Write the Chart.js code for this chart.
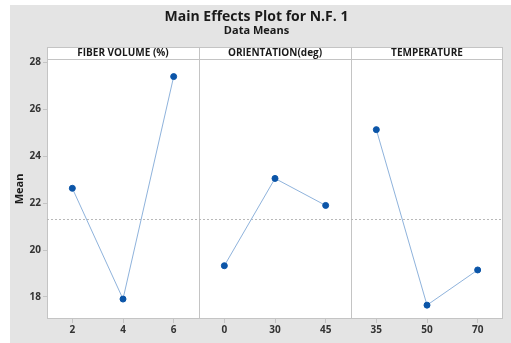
<!DOCTYPE html>
<html>
<head>
<meta charset="utf-8">
<script src="https://cdn.jsdelivr.net/npm/chart.js@4/dist/chart.umd.min.js"></script>
<style>
  body { margin: 0; background: #fff; }
  #wrap { position: absolute; left: 10px; top: 5px; width: 501px; height: 338px; background: #e4e4e4; }
</style>
</head>
<body>
<div id="wrap"><canvas id="main" width="501" height="338"></canvas></div>
<script>
// factors and their levels
const factors = ["FIBER VOLUME (%)", "ORIENTATION(deg)", "TEMPERATURE"];
const fiberLevels = ["2", "4", "6"];
const orientLevels = ["0", "30", "45"];
const tempLevels = ["35", "50", "70"];

// means
const fiberMeans = [22.63, 17.91, 27.39];
const orientMeans = [19.33, 23.05, 21.9];
const tempMeans = [25.13, 17.65, 19.15];

const grandMean = 21.32;
const yTicks = [18, 20, 22, 24, 26, 28];

const levelGroups = [fiberLevels, orientLevels, tempLevels];
const meanGroups = [fiberMeans, orientMeans, tempMeans];
const allLevels = [].concat(...levelGroups);

// one dataset per panel, nulls elsewhere so lines don't join panels
function panelData(p) {
  const out = allLevels.map(() => null);
  let start = 0;
  for (let i = 0; i < p; i++) start += levelGroups[i].length;
  meanGroups[p].forEach((v, i) => { out[start + i] = v; });
  return out;
}

const lineColor = "#8fb3dc";
const dotColor = "#0b55a8";
const frameColor = "#c4c4c4";

const panelPlugin = {
  id: "panels",
  beforeDatasetsDraw(chart) {
    const { ctx, chartArea: a, scales } = chart;
    const x = scales.x, y = scales.y;
    ctx.save();
    // white plot + header strip
    ctx.fillStyle = "#fff";
    ctx.fillRect(a.left, a.top - 12, a.right - a.left, a.bottom - a.top + 12);
    ctx.strokeStyle = frameColor;
    ctx.lineWidth = 1;
    ctx.strokeRect(a.left + 0.5, a.top - 11.5, a.right - a.left - 1, a.bottom - a.top + 11);
    ctx.beginPath();
    ctx.moveTo(a.left, a.top + 0.5);
    ctx.lineTo(a.right, a.top + 0.5);
    ctx.stroke();

    // panel dividers and headers
    let idx = 0;
    const edges = [a.left];
    levelGroups.forEach((g, p) => {
      idx += g.length;
      if (p < levelGroups.length - 1) {
        const xl = (x.getPixelForValue(idx - 1) + x.getPixelForValue(idx)) / 2;
        edges.push(xl);
        ctx.beginPath();
        ctx.moveTo(Math.round(xl) + 0.5, a.top - 12);
        ctx.lineTo(Math.round(xl) + 0.5, a.bottom);
        ctx.stroke();
      }
    });
    edges.push(a.right);
    ctx.fillStyle = "#1a1a1a";
    ctx.font = "bold 10px 'Open Sans'";
    ctx.textAlign = "center";
    ctx.textBaseline = "middle";
    factors.forEach((f, p) => {
      ctx.fillText(f, (edges[p] + edges[p + 1]) / 2, a.top - 5.5);
    });

    // grand mean reference line
    const ym = Math.round(y.getPixelForValue(grandMean)) + 0.5;
    ctx.strokeStyle = "#b8b8b8";
    ctx.setLineDash([2, 2]);
    ctx.beginPath();
    ctx.moveTo(a.left, ym);
    ctx.lineTo(a.right, ym);
    ctx.stroke();
    ctx.restore();
  }
};

const tickFont = { family: "'Open Sans'", size: 10, weight: "bold" };

new Chart(document.getElementById("main"), {
  type: "line",
  data: {
    labels: allLevels,
    datasets: meanGroups.map((m, p) => ({
      data: panelData(p),
      borderColor: lineColor,
      borderWidth: 1,
      pointRadius: 3,
      pointBackgroundColor: dotColor,
      pointBorderColor: dotColor,
      spanGaps: false,
      tension: 0
    }))
  },
  options: {
    responsive: false,
    animation: false,
    layout: { padding: { left: 0, right: 8, top: 0, bottom: 0 } },
    plugins: {
      legend: { display: false },
      tooltip: { enabled: false },
      title: {
        display: true,
        text: "Main Effects Plot for N.F. 1",
        color: "#1a1a1a",
        font: { family: "'Open Sans'", size: 14, weight: "bold", lineHeight: 1 },
        padding: { top: 5, bottom: 0 }
      },
      subtitle: {
        display: true,
        text: "Data Means",
        color: "#1a1a1a",
        font: { family: "'Open Sans'", size: 11, weight: "bold", lineHeight: 1 },
        padding: { top: 1.5, bottom: 22.5 }
      }
    },
    scales: {
      x: {
        type: "category",
        offset: true,
        grid: { drawOnChartArea: false, drawTicks: true, tickLength: 4, color: frameColor, offset: false },
        border: { display: false },
        ticks: { color: "#333", font: tickFont, padding: 1, maxRotation: 0 },
        afterFit(s) { s.height = 24; }
      },
      y: {
        min: 17.06,
        max: 28.14,
        grid: { drawOnChartArea: false, drawTicks: true, tickLength: 4, color: frameColor },
        border: { display: false },
        ticks: { color: "#333", font: tickFont, padding: 2 },
        afterBuildTicks(s) { s.ticks = yTicks.map(v => ({ value: v })); },
        title: {
          display: true,
          text: "Mean",
          color: "#1a1a1a",
          font: { family: "'Open Sans'", size: 11, weight: "bold" },
          padding: { top: 3, bottom: 0 }
        },
        afterFit(s) { s.width = 37; }
      }
    }
  },
  plugins: [panelPlugin]
});
</script>
</body>
</html>
